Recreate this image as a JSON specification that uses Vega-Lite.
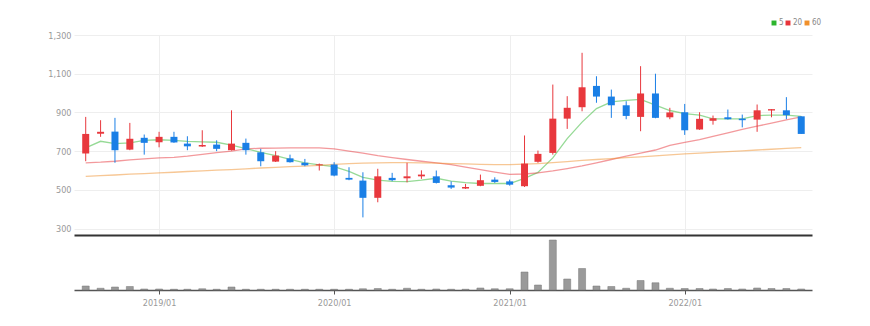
{
  "$schema": "https://vega.github.io/schema/vega-lite/v6.json",
  "padding": {"left": 47, "top": 19, "right": 57, "bottom": 19},
  "background": "white",
  "bounds": "flush",
  "spacing": 0,
  "config": {
    "view": {"stroke": null},
    "font": "DejaVu Sans Condensed, sans-serif",
    "axis": {"labelColor": "#999", "labelFontSize": 9, "labelFont": "DejaVu Sans Condensed, sans-serif", "labelOverlap": false},
    "axisY": {"labelOverlap": false},
    "legend": {"labelFont": "DejaVu Sans Condensed, sans-serif"}
  },
  "data": {"values": [
    {"d": "2018-08-01T00:00:00", "o": 688, "h": 877, "l": 648, "c": 789, "v": 8, "m5": 717, "m20": 640, "m60": 570},
    {"d": "2018-09-01T00:00:00", "o": 790, "h": 860, "l": 774, "c": 800, "v": 3.5, "m5": 751, "m20": 643, "m60": 574},
    {"d": "2018-10-01T00:00:00", "o": 801, "h": 872, "l": 640, "c": 705, "v": 6, "m5": 739, "m20": 648, "m60": 577},
    {"d": "2018-11-01T00:00:00", "o": 708, "h": 846, "l": 705, "c": 764, "v": 7, "m5": 743, "m20": 655, "m60": 581},
    {"d": "2018-12-01T00:00:00", "o": 769, "h": 786, "l": 682, "c": 743, "v": 2, "m5": 756, "m20": 660, "m60": 584},
    {"d": "2019-01-01T00:00:00", "o": 746, "h": 800, "l": 720, "c": 774, "v": 2, "m5": 759, "m20": 665, "m60": 588},
    {"d": "2019-02-01T00:00:00", "o": 774, "h": 800, "l": 743, "c": 745, "v": 1.5, "m5": 756, "m20": 668, "m60": 591},
    {"d": "2019-03-01T00:00:00", "o": 739, "h": 777, "l": 705, "c": 725, "v": 1.5, "m5": 751, "m20": 674, "m60": 595},
    {"d": "2019-04-01T00:00:00", "o": 724, "h": 808, "l": 722, "c": 732, "v": 2.5, "m5": 748, "m20": 683, "m60": 598},
    {"d": "2019-05-01T00:00:00", "o": 734, "h": 756, "l": 700, "c": 712, "v": 1.5, "m5": 746, "m20": 692, "m60": 602},
    {"d": "2019-06-01T00:00:00", "o": 705, "h": 911, "l": 703, "c": 739, "v": 6, "m5": 731, "m20": 700, "m60": 605},
    {"d": "2019-07-01T00:00:00", "o": 743, "h": 765, "l": 682, "c": 705, "v": 1.5, "m5": 713, "m20": 712, "m60": 609},
    {"d": "2019-08-01T00:00:00", "o": 694, "h": 712, "l": 622, "c": 648, "v": 1.5, "m5": 694, "m20": 715, "m60": 613},
    {"d": "2019-09-01T00:00:00", "o": 646, "h": 700, "l": 644, "c": 677, "v": 1.5, "m5": 677, "m20": 716, "m60": 616},
    {"d": "2019-10-01T00:00:00", "o": 663, "h": 682, "l": 641, "c": 643, "v": 1.5, "m5": 657, "m20": 717, "m60": 620},
    {"d": "2019-11-01T00:00:00", "o": 640, "h": 660, "l": 622, "c": 627, "v": 1.5, "m5": 640, "m20": 717, "m60": 623},
    {"d": "2019-12-01T00:00:00", "o": 627, "h": 636, "l": 600, "c": 632, "v": 1.5, "m5": 629, "m20": 717, "m60": 627},
    {"d": "2020-01-01T00:00:00", "o": 631, "h": 643, "l": 570, "c": 574, "v": 1.5, "m5": 620, "m20": 712, "m60": 632},
    {"d": "2020-02-01T00:00:00", "o": 562, "h": 617, "l": 550, "c": 553, "v": 1.5, "m5": 596, "m20": 700, "m60": 636},
    {"d": "2020-03-01T00:00:00", "o": 548, "h": 591, "l": 358, "c": 459, "v": 2.5, "m5": 565, "m20": 690, "m60": 638},
    {"d": "2020-04-01T00:00:00", "o": 459, "h": 609, "l": 436, "c": 570, "v": 3, "m5": 550, "m20": 677, "m60": 640},
    {"d": "2020-05-01T00:00:00", "o": 562, "h": 588, "l": 545, "c": 550, "v": 1.5, "m5": 544, "m20": 667, "m60": 641},
    {"d": "2020-06-01T00:00:00", "o": 560, "h": 640, "l": 539, "c": 570, "v": 3.5, "m5": 543, "m20": 657, "m60": 641},
    {"d": "2020-07-01T00:00:00", "o": 570, "h": 601, "l": 557, "c": 579, "v": 1.5, "m5": 550, "m20": 648, "m60": 640},
    {"d": "2020-08-01T00:00:00", "o": 570, "h": 600, "l": 533, "c": 536, "v": 2, "m5": 560, "m20": 640, "m60": 638},
    {"d": "2020-09-01T00:00:00", "o": 524, "h": 544, "l": 505, "c": 512, "v": 1.5, "m5": 545, "m20": 630, "m60": 636},
    {"d": "2020-10-01T00:00:00", "o": 507, "h": 531, "l": 505, "c": 515, "v": 1.5, "m5": 537, "m20": 618, "m60": 634},
    {"d": "2020-11-01T00:00:00", "o": 521, "h": 579, "l": 519, "c": 550, "v": 4, "m5": 533, "m20": 605, "m60": 632},
    {"d": "2020-12-01T00:00:00", "o": 553, "h": 565, "l": 536, "c": 541, "v": 2.5, "m5": 533, "m20": 592, "m60": 631},
    {"d": "2021-01-01T00:00:00", "o": 544, "h": 553, "l": 522, "c": 527, "v": 2.5, "m5": 533, "m20": 580, "m60": 631},
    {"d": "2021-02-01T00:00:00", "o": 519, "h": 781, "l": 515, "c": 636, "v": 36, "m5": 560, "m20": 582, "m60": 633},
    {"d": "2021-03-01T00:00:00", "o": 645, "h": 703, "l": 640, "c": 686, "v": 10, "m5": 590, "m20": 588, "m60": 636},
    {"d": "2021-04-01T00:00:00", "o": 691, "h": 1044, "l": 682, "c": 868, "v": 100, "m5": 665, "m20": 598, "m60": 641},
    {"d": "2021-05-01T00:00:00", "o": 868, "h": 984, "l": 815, "c": 924, "v": 22, "m5": 765, "m20": 610, "m60": 646},
    {"d": "2021-06-01T00:00:00", "o": 927, "h": 1208, "l": 906, "c": 1030, "v": 43, "m5": 850, "m20": 624, "m60": 652},
    {"d": "2021-07-01T00:00:00", "o": 1037, "h": 1087, "l": 950, "c": 982, "v": 8, "m5": 920, "m20": 640, "m60": 657},
    {"d": "2021-08-01T00:00:00", "o": 982, "h": 1018, "l": 872, "c": 937, "v": 7, "m5": 955, "m20": 657, "m60": 662},
    {"d": "2021-09-01T00:00:00", "o": 937, "h": 958, "l": 865, "c": 882, "v": 3.5, "m5": 962, "m20": 674, "m60": 667},
    {"d": "2021-10-01T00:00:00", "o": 877, "h": 1139, "l": 803, "c": 998, "v": 19, "m5": 967, "m20": 690, "m60": 671},
    {"d": "2021-11-01T00:00:00", "o": 998, "h": 1100, "l": 870, "c": 872, "v": 14.5, "m5": 938, "m20": 706, "m60": 676},
    {"d": "2021-12-01T00:00:00", "o": 875, "h": 924, "l": 865, "c": 900, "v": 3.5, "m5": 910, "m20": 730, "m60": 681},
    {"d": "2022-01-01T00:00:00", "o": 901, "h": 944, "l": 784, "c": 808, "v": 3, "m5": 894, "m20": 745, "m60": 686},
    {"d": "2022-02-01T00:00:00", "o": 812, "h": 901, "l": 810, "c": 867, "v": 3, "m5": 886, "m20": 760, "m60": 690},
    {"d": "2022-03-01T00:00:00", "o": 857, "h": 884, "l": 837, "c": 870, "v": 2, "m5": 867, "m20": 777, "m60": 694},
    {"d": "2022-04-01T00:00:00", "o": 875, "h": 915, "l": 863, "c": 865, "v": 3, "m5": 867, "m20": 795, "m60": 698},
    {"d": "2022-05-01T00:00:00", "o": 868, "h": 889, "l": 823, "c": 860, "v": 2, "m5": 867, "m20": 812, "m60": 702},
    {"d": "2022-06-01T00:00:00", "o": 863, "h": 941, "l": 800, "c": 911, "v": 4, "m5": 884, "m20": 829, "m60": 706},
    {"d": "2022-07-01T00:00:00", "o": 910, "h": 917, "l": 875, "c": 917, "v": 3, "m5": 886, "m20": 845, "m60": 710},
    {"d": "2022-08-01T00:00:00", "o": 911, "h": 979, "l": 865, "c": 886, "v": 3, "m5": 886, "m20": 862, "m60": 714},
    {"d": "2022-09-01T00:00:00", "o": 880, "h": 880, "l": 789, "c": 789, "v": 2, "m5": 880, "m20": 877, "m60": 718}
  ]},
  "vconcat": [
    {
      "width": 738,
      "height": 200,
      "encoding": {
        "x": {"field": "d", "type": "temporal",
          "scale": {"domain": [{"year": 2018, "month": 7, "date": 18}, {"year": 2022, "month": 9, "date": 13}]},
          "axis": {"values": [{"year": 2019, "month": 1, "date": 1}, {"year": 2020, "month": 1, "date": 1}, {"year": 2021, "month": 1, "date": 1}, {"year": 2022, "month": 1, "date": 1}],
            "title": null, "labels": false, "ticks": false, "domain": true, "domainColor": "#333", "domainWidth": 2, "grid": true, "gridColor": "#eeeeee"}}
      },
      "layer": [
        {
          "transform": [{"fold": ["m5", "m20", "m60"], "as": ["ma", "val"]}],
          "mark": {"type": "line", "strokeWidth": 1.3, "opacity": 0.5},
          "encoding": {
            "y": {"field": "val", "type": "quantitative",
              "scale": {"domain": [267, 1300], "nice": false, "zero": false},
              "axis": {"values": [300, 500, 700, 900, 1100, 1300], "format": ",d", "labelOverlap": false, "title": null, "domain": false, "ticks": false, "labelPadding": 3, "grid": true, "gridColor": "#eeeeee"}},
            "color": {"field": "ma", "type": "nominal",
              "scale": {"domain": ["m5", "m20", "m60"], "range": ["#2db52d", "#e8333a", "#f0902b"]},
              "legend": {"orient": "none", "legendX": 696, "legendY": -16, "direction": "horizontal", "title": null, "gridAlign": "none",
                "symbolType": "square", "symbolSize": 6, "symbolStrokeWidth": 2.5, "symbolOpacity": 1, "symbolOffset": 0,
                "labelFontSize": 8, "labelColor": "#888", "columnPadding": -3, "labelOffset": 1,
                "labelExpr": "replace(datum.label, 'm', '')"}}
          }
        },
        {
          "mark": {"type": "rule", "strokeWidth": 1},
          "encoding": {
            "y": {"field": "l", "type": "quantitative", "axis": {"values": [300, 500, 700, 900, 1100, 1300], "format": ",d", "labelOverlap": false, "title": null, "domain": false, "ticks": false, "labelPadding": 3, "grid": true, "gridColor": "#eeeeee"}},
            "y2": {"field": "h"},
            "color": {"condition": {"test": "datum.c >= datum.o", "value": "#e8383d"}, "value": "#1a7fe6"}
          }
        },
        {
          "mark": {"type": "bar", "size": 7},
          "encoding": {
            "y": {"field": "o", "type": "quantitative", "axis": {"values": [300, 500, 700, 900, 1100, 1300], "format": ",d", "labelOverlap": false, "title": null, "domain": false, "ticks": false, "labelPadding": 3, "grid": true, "gridColor": "#eeeeee"}},
            "y2": {"field": "c"},
            "color": {"condition": {"test": "datum.c >= datum.o", "value": "#e8383d"}, "value": "#1a7fe6"}
          }
        }
      ]
    },
    {
      "width": 738,
      "height": 55,
      "mark": {"type": "bar", "size": 7, "color": "#9a9a9a", "stroke": "#777777", "strokeWidth": 0.5},
      "encoding": {
        "x": {"field": "d", "type": "temporal",
          "scale": {"domain": [{"year": 2018, "month": 7, "date": 18}, {"year": 2022, "month": 9, "date": 13}]},
          "axis": {"values": [{"year": 2019, "month": 1, "date": 1}, {"year": 2020, "month": 1, "date": 1}, {"year": 2021, "month": 1, "date": 1}, {"year": 2022, "month": 1, "date": 1}],
            "format": "%Y/%m", "title": null, "grid": false, "domainColor": "#555", "domainWidth": 1.5, "tickColor": "#555", "tickSize": 4, "labelPadding": 4}},
        "y": {"field": "v", "type": "quantitative", "scale": {"domain": [0, 110]}, "axis": null}
      }
    }
  ]
}
